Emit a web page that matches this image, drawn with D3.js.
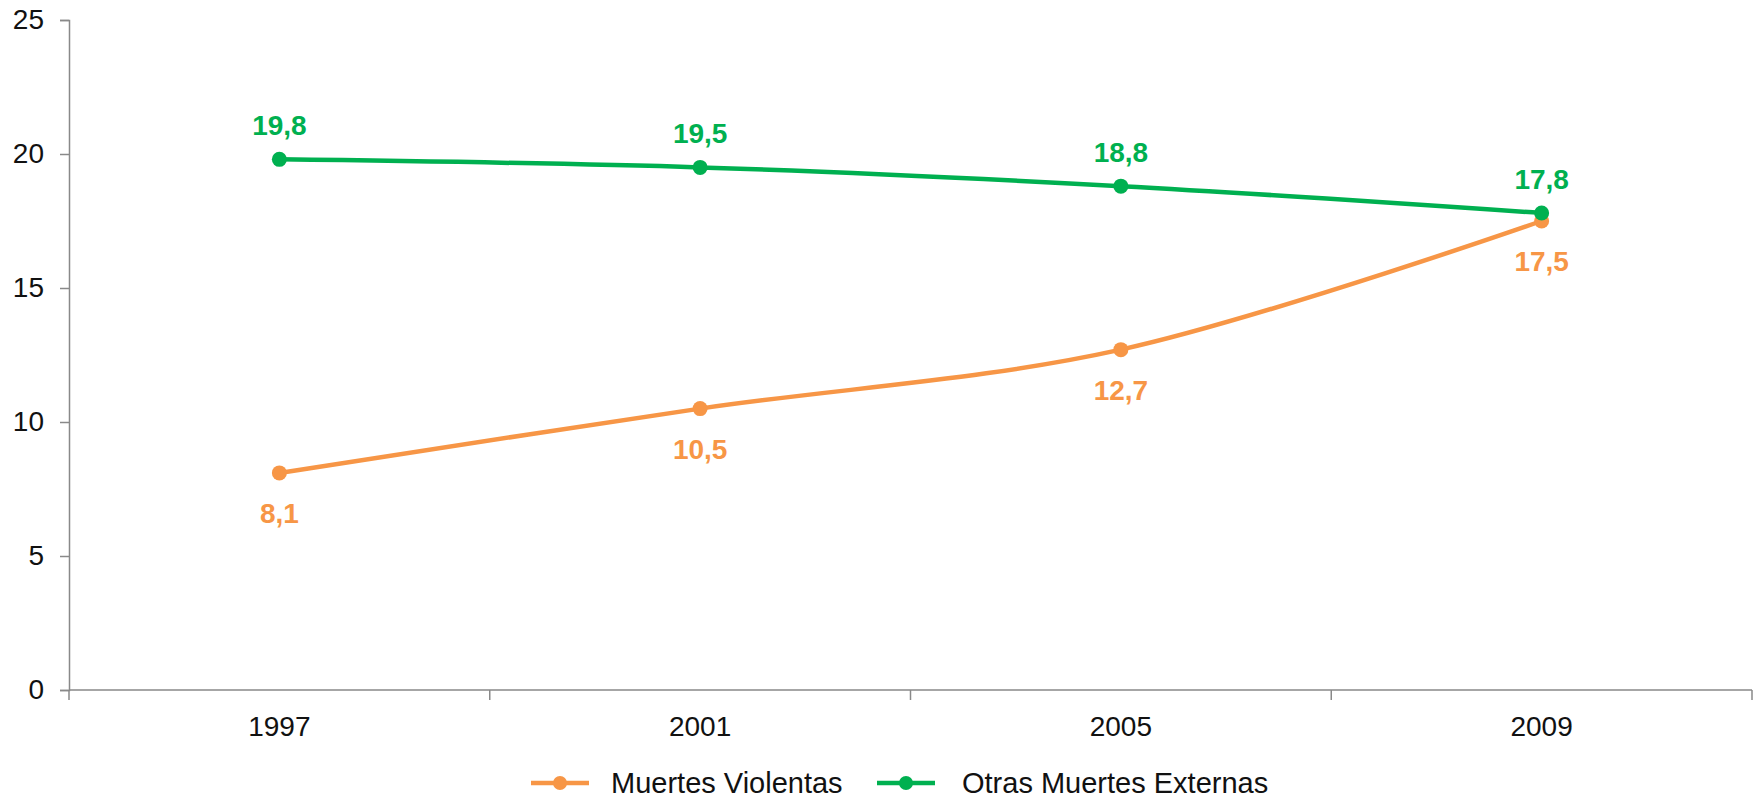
<!DOCTYPE html>
<html>
<head>
<meta charset="utf-8">
<script src="https://cdn.jsdelivr.net/npm/d3@7"></script>
<style>
  body { margin: 0; background: #fff; }
  svg text { font-family: "Liberation Sans", Arial, sans-serif; }
</style>
</head>
<body>
<div id="chart"></div>
<script>
// data
var years = ["1997", "2001", "2005", "2009"];
var violentas = [8.1, 10.5, 12.7, 17.5];
var otras = [19.8, 19.5, 18.8, 17.8];
var yTicks = [0, 5, 10, 15, 20, 25];
var seriesNames = ["Muertes Violentas", "Otras Muertes Externas"];

var W = 1759, H = 798;
var margin = {top: 20, right: 7, bottom: 108, left: 69},
    width = W - margin.left - margin.right,
    height = H - margin.top - margin.bottom;

var svg = d3.select("#chart").append("svg")
    .attr("width", W)
    .attr("height", H)
  .append("g")
    .attr("transform", "translate(" + margin.left + "," + margin.top + ")");

var x = d3.scaleBand().domain(years).range([0, width]);
var y = d3.scaleLinear().domain([0, 25]).range([height, 0]);

var axisColor = "#898989";

// y axis
var yAxis = svg.append("g")
    .call(d3.axisLeft(y).tickValues(yTicks).tickSize(9).tickPadding(16));
yAxis.select(".domain").attr("stroke", axisColor).attr("stroke-width", 1.5);
yAxis.selectAll(".tick line").attr("stroke", axisColor).attr("stroke-width", 1.5);
yAxis.selectAll(".tick text").attr("font-size", 28).attr("fill", "#111")
    .attr("font-family", "Liberation Sans, Arial, sans-serif");

// x axis: ticks at band boundaries
var xAxisG = svg.append("g").attr("transform", "translate(0," + height + ")");
xAxisG.append("line")
    .attr("x1", 0).attr("x2", width)
    .attr("stroke", axisColor).attr("stroke-width", 1.5);
var bounds = years.map(function(d) { return x(d); }).concat([width]);
xAxisG.selectAll(".xt").data(bounds).enter().append("line")
    .attr("x1", function(d) { return d; }).attr("x2", function(d) { return d; })
    .attr("y1", 0).attr("y2", 10)
    .attr("stroke", axisColor).attr("stroke-width", 1.5);
xAxisG.selectAll(".xl").data(years).enter().append("text")
    .attr("x", function(d) { return x(d) + x.bandwidth() / 2; })
    .attr("y", 46)
    .attr("text-anchor", "middle")
    .attr("font-size", 28)
    .attr("fill", "#111")
    .text(function(d) { return d; });

var colors = ["#F79646", "#00B050"];
var series = [violentas, otras];

var line = d3.line()
    .x(function(d, i) { return x(years[i]) + x.bandwidth() / 2; })
    .y(function(d) { return y(d); })
    .curve(d3.curveCatmullRom.alpha(0.5));

series.forEach(function(vals, s) {
    svg.append("path")
        .datum(vals)
        .attr("d", line)
        .attr("fill", "none")
        .attr("stroke", colors[s])
        .attr("stroke-width", 4.5);
});

series.forEach(function(vals, s) {
    svg.selectAll(".dot" + s).data(vals).enter().append("circle")
        .attr("cx", function(d, i) { return x(years[i]) + x.bandwidth() / 2; })
        .attr("cy", function(d) { return y(d); })
        .attr("r", 7.5)
        .attr("fill", colors[s]);

    svg.selectAll(".lbl" + s).data(vals).enter().append("text")
        .attr("x", function(d, i) { return x(years[i]) + x.bandwidth() / 2; })
        .attr("y", function(d) { return s === 0 ? y(d) + 50 : y(d) - 24; })
        .attr("text-anchor", "middle")
        .attr("font-size", 28)
        .attr("font-weight", "bold")
        .attr("fill", colors[s])
        .text(function(d) { return d3.format(".1f")(d).replace(".", ","); });
});

// legend
var legendX = [531, 877];
var legendY = 783;
var leg = d3.select("svg").append("g");
seriesNames.forEach(function(name, s) {
    var g = leg.append("g").attr("transform", "translate(" + legendX[s] + "," + legendY + ")");
    g.append("line").attr("x1", 0).attr("x2", 58).attr("y1", 0).attr("y2", 0)
        .attr("stroke", colors[s]).attr("stroke-width", 4.5);
    g.append("circle").attr("cx", 29).attr("cy", 0).attr("r", 7).attr("fill", colors[s]);
    g.append("text")
        .attr("x", s === 0 ? 80 : 85)
        .attr("y", 10)
        .attr("font-size", 29)
        .attr("fill", "#111")
        .text(name);
});
</script>
</body>
</html>
